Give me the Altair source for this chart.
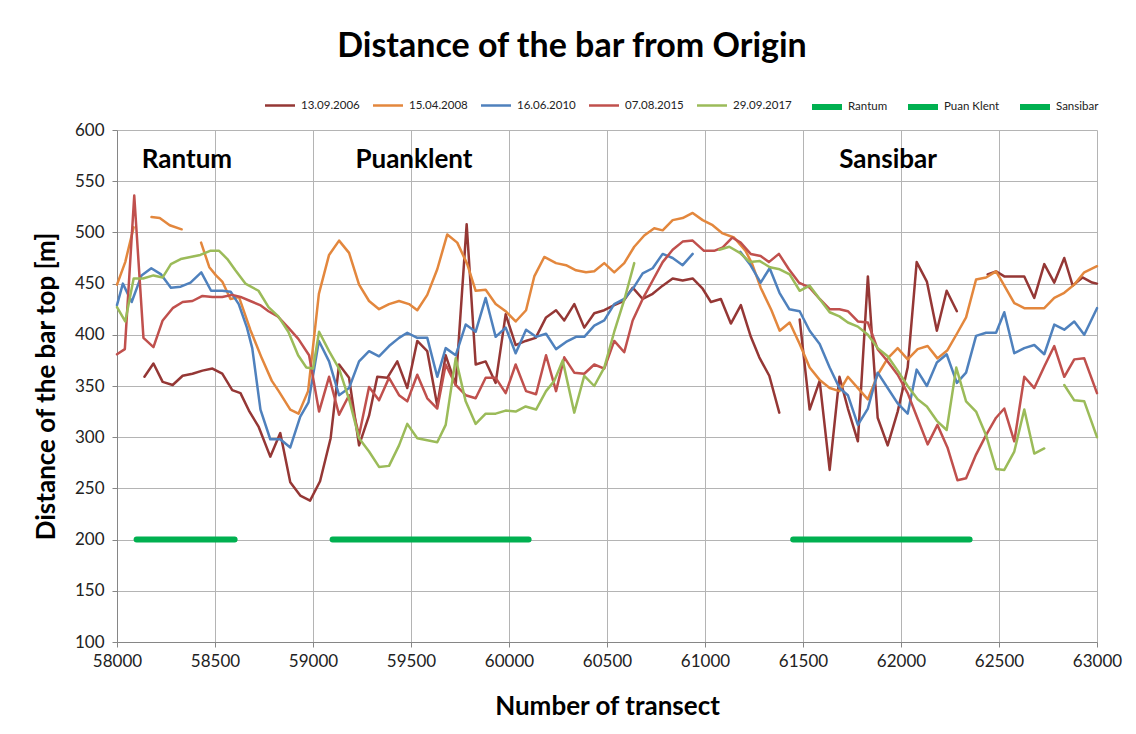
import altair as alt
import pandas as pd

# ---------------- data ----------------
series_names = ["13.09.2006", "15.04.2008", "16.06.2010", "07.08.2015", "29.09.2017",
                "Rantum", "Puan Klent", "Sansibar"]

# 13.09.2006 (three separate stretches)
x_2006_a = [58140, 58186, 58233, 58284, 58335, 58385, 58436, 58487, 58537, 58588,
            58630, 58673, 58723, 58782, 58833, 58884, 58935, 58985, 59036, 59090,
            59133, 59184, 59235, 59286, 59328, 59379, 59430, 59481, 59532, 59583,
            59634, 59677, 59728, 59784, 59830, 59881, 59932, 59983, 60034, 60085,
            60136, 60189, 60240, 60282, 60333, 60384, 60435, 60486, 60537, 60584,
            60631, 60682, 60733, 60784, 60835, 60886, 60937, 60988, 61030, 61081,
            61132, 61183, 61234, 61277, 61328, 61379]
y_2006_a = [359, 372, 354, 351, 360, 362, 365, 367, 362, 346,
            343, 326, 310, 281, 304, 256, 243, 238, 257, 299,
            371, 358, 292, 321, 359, 358, 374, 348, 394, 384,
            331, 380, 351, 508, 371, 374, 353, 420, 390, 394,
            397, 417, 424, 414, 430, 407, 421, 424, 429, 433,
            446, 435, 440, 448, 455, 453, 455, 445, 432, 435,
            411, 429, 398, 378, 360, 324]
x_2006_b = [61483, 61534, 61585, 61636, 61686, 61729, 61780, 61831, 61881, 61932,
            61983, 62034, 62080, 62132, 62183, 62233, 62285]
y_2006_b = [415, 327, 355, 268, 359, 328, 296, 457, 319, 292,
            325, 368, 471, 452, 404, 443, 423]
x_2006_c = [62442, 62485, 62527, 62578, 62629, 62680, 62731, 62782, 62833, 62876,
            62926, 62975, 63000]
y_2006_c = [459, 462, 457, 457, 457, 436, 469, 451, 475, 448,
            456, 451, 450]

# 15.04.2008
x_2008_a = [58000, 58042, 58085]
y_2008_a = [449, 471, 505]
x_2008_b = [58176, 58218, 58269, 58330]
y_2008_b = [515, 514, 507, 503]
x_2008_c = [58429, 58471, 58505, 58537, 58579, 58622, 58680, 58739, 58790, 58825,
            58884, 58926, 58975, 59030, 59082, 59133, 59184, 59235, 59286, 59337,
            59388, 59439, 59490, 59532, 59583, 59634, 59685, 59736, 59787, 59830,
            59881, 59932, 59983, 60034, 60087, 60129, 60180, 60240, 60291, 60342,
            60393, 60435, 60486, 60537, 60588, 60639, 60690, 60741, 60784, 60835,
            60886, 60937, 60988, 61039, 61090, 61148, 61207, 61241, 61284, 61339,
            61381, 61432, 61483, 61534, 61585, 61636, 61686, 61729, 61780, 61831,
            61881, 61932, 61983, 62034, 62085, 62136, 62186, 62237, 62288, 62332,
            62383, 62434, 62485, 62527, 62578, 62629, 62680, 62731, 62782, 62833,
            62884, 62935, 63000]
y_2008_c = [490, 466, 458, 452, 435, 437, 405, 377, 355, 345,
            327, 323, 345, 440, 478, 492, 480, 449, 433, 425,
            430, 433, 430, 424, 439, 464, 498, 490, 469, 443,
            444, 430, 423, 413, 424, 457, 476, 470, 468, 463,
            461, 462, 470, 461, 470, 486, 497, 504, 502, 512,
            514, 519, 512, 507, 499, 495, 482, 469, 446, 424,
            404, 412, 391, 368, 356, 348, 345, 359, 348, 337,
            361, 377, 387, 376, 386, 389, 377, 385, 402, 417,
            454, 456, 462, 448, 431, 426, 426, 426, 436, 441,
            449, 461, 467]

# 16.06.2010
x_2010_a = [58000, 58030, 58075, 58125, 58175, 58225, 58275, 58325, 58375, 58430,
            58480, 58537, 58580, 58621, 58663, 58690, 58732, 58782, 58833, 58884,
            58935, 58977, 59030, 59082, 59133, 59184, 59235, 59286, 59337, 59388,
            59439, 59481, 59532, 59583, 59634, 59677, 59728, 59779, 59830, 59881,
            59932, 59983, 60034, 60087, 60138, 60189, 60240, 60291, 60342, 60384,
            60435, 60486, 60537, 60588, 60639, 60682, 60733, 60784, 60835, 60886,
            60937]
y_2010_a = [429, 450, 432, 458, 465, 459, 446, 447, 451, 461,
            443, 443, 442, 430, 407, 387, 327, 298, 298, 290,
            320, 334, 394, 374, 341, 348, 374, 384, 379, 389,
            397, 402, 397, 397, 359, 387, 380, 410, 403, 436,
            398, 407, 382, 405, 398, 401, 386, 393, 398, 398,
            409, 414, 430, 435, 447, 460, 465, 479, 475, 468,
            479]
x_2010_b = [61180, 61229, 61284, 61330, 61380, 61430, 61483, 61534, 61585, 61636,
            61686, 61729, 61780, 61831, 61881, 61932, 61983, 62034, 62080, 62132,
            62183, 62233, 62285, 62332, 62383, 62434, 62485, 62527, 62578, 62629,
            62680, 62731, 62782, 62833, 62884, 62935, 63000]
y_2010_b = [481, 469, 451, 465, 441, 425, 423, 404, 391, 368,
            348, 341, 312, 328, 363, 348, 333, 323, 366, 350,
            373, 381, 353, 363, 399, 402, 402, 422, 382, 387,
            390, 381, 410, 405, 413, 400, 426]

# 07.08.2015
x_2015 = [58000, 58040, 58088, 58135, 58186, 58233, 58284, 58335, 58385, 58436,
          58487, 58537, 58588, 58630, 58680, 58730, 58773, 58820, 58874, 58925,
          58980, 59031, 59082, 59133, 59184, 59235, 59286, 59337, 59388, 59439,
          59481, 59532, 59583, 59634, 59677, 59728, 59779, 59830, 59881, 59932,
          59983, 60034, 60087, 60138, 60189, 60240, 60282, 60333, 60384, 60435,
          60486, 60537, 60588, 60631, 60682, 60733, 60784, 60835, 60886, 60937,
          60995, 61046, 61088, 61139, 61182, 61233, 61284, 61326, 61377, 61428,
          61479, 61534, 61585, 61636, 61686, 61729, 61780, 61831, 61881, 61932,
          61983, 62034, 62085, 62136, 62186, 62237, 62288, 62332, 62383, 62434,
          62485, 62527, 62578, 62629, 62680, 62731, 62782, 62833, 62884, 62935,
          63000]
y_2015 = [381, 386, 536, 397, 388, 414, 426, 432, 433, 438,
          437, 437, 439, 437, 433, 429, 423, 418, 407, 396,
          380, 325, 359, 322, 341, 302, 349, 336, 358, 341,
          335, 361, 338, 328, 371, 351, 341, 338, 358, 358,
          343, 371, 345, 342, 380, 345, 378, 363, 362, 371,
          367, 394, 383, 414, 435, 453, 471, 483, 491, 492,
          482, 482, 485, 495, 490, 479, 477, 471, 479, 464,
          451, 446, 435, 425, 425, 423, 413, 412, 386, 374,
          361, 343, 318, 293, 312, 290, 258, 260, 283, 302,
          319, 328, 296, 359, 348, 369, 389, 359, 376, 377,
          343]

# 29.09.2017
x_2017_a = [58000, 58042, 58085, 58133, 58186, 58233, 58275, 58325, 58375, 58425,
            58475, 58521, 58563, 58604, 58655, 58722, 58773, 58823, 58874, 58924,
            58966, 59000, 59031, 59082, 59133, 59184, 59235, 59286, 59337, 59388,
            59439, 59481, 59532, 59583, 59634, 59677, 59728, 59779, 59830, 59881,
            59932, 59983, 60034, 60085, 60138, 60189, 60231, 60274, 60333, 60384,
            60435, 60486, 60537, 60588, 60639]
y_2017_a = [427, 413, 455, 455, 458, 456, 469, 474, 476, 478,
            482, 482, 474, 463, 450, 443, 427, 418, 403, 380,
            368, 367, 403, 384, 367, 337, 299, 286, 271, 272,
            292, 313, 299, 297, 295, 312, 377, 335, 313, 323,
            323, 326, 325, 330, 327, 345, 355, 375, 324, 360,
            350, 368, 403, 434, 470]
x_2017_b = [61073, 61124, 61178, 61229, 61280, 61331, 61381, 61432, 61483, 61534,
            61585, 61636, 61686, 61729, 61780, 61831, 61881, 61932, 61983, 62034,
            62085, 62132, 62183, 62233, 62282, 62332, 62383, 62434, 62485, 62527,
            62578, 62629, 62680, 62731]
y_2017_b = [483, 486, 480, 471, 472, 466, 464, 459, 443, 448,
            435, 422, 418, 412, 408, 400, 387, 379, 365, 350,
            337, 330, 316, 307, 368, 335, 325, 302, 269, 268,
            286, 327, 284, 289]
x_2017_c = [62833, 62884, 62935, 63000]
y_2017_c = [351, 336, 335, 300]

# beach sections drawn as horizontal bars at 200 m
section_names = ["Rantum", "Puan Klent", "Sansibar"]
section_start = [58100, 59100, 61450]
section_end = [58600, 60100, 62350]
section_level = [200, 200, 200]

# labels written inside the plot
label_text = ["Rantum", "Puanklent", "Sansibar"]
label_x = [58357, 59515, 61934]
label_y = [563, 563, 563]

x_ticks = [58000, 58500, 59000, 59500, 60000, 60500, 61000, 61500, 62000, 62500, 63000]
y_ticks = [100, 150, 200, 250, 300, 350, 400, 450, 500, 550, 600]

# ---------------- styles ----------------
series_colors = ["#953735", "#E3873D", "#4F81BD", "#C0504D", "#9BBB59",
                 "#00B050", "#00B050", "#00B050"]
series_widths = [2.5, 2.5, 2.5, 2.5, 2.5, 6, 6, 6]
FONT = "Lato"

# ---------------- build the table ----------------
segments = {
    "13.09.2006": [(x_2006_a, y_2006_a), (x_2006_b, y_2006_b), (x_2006_c, y_2006_c)],
    "15.04.2008": [(x_2008_a, y_2008_a), (x_2008_b, y_2008_b), (x_2008_c, y_2008_c)],
    "16.06.2010": [(x_2010_a, y_2010_a), (x_2010_b, y_2010_b)],
    "07.08.2015": [(x_2015, y_2015)],
    "29.09.2017": [(x_2017_a, y_2017_a), (x_2017_b, y_2017_b), (x_2017_c, y_2017_c)],
}
for n, s, e, lv in zip(section_names, section_start, section_end, section_level):
    segments[n] = [([s, e], [lv, lv])]

rows = []
for name in series_names:
    for i, (xs, ys) in enumerate(segments[name]):
        for xv, yv in zip(xs, ys):
            rows.append({"series": name, "seg": f"{name}#{i}",
                         "transect": xv, "distance": yv})
df = pd.DataFrame(rows)

legend = alt.Legend(orient="none", legendX=145, legendY=-41, direction="horizontal",
                    columns=8, gridAlign="none", symbolType="stroke", symbolSize=900,
                    labelFont=FONT, labelFontSize=11.5, labelColor="#222222",
                    labelOffset=3, columnPadding=8)

x_enc = alt.X("transect:Q",
              scale=alt.Scale(domain=[58000, 63000], nice=False, zero=False),
              axis=alt.Axis(values=x_ticks, format="d", title="Number of transect",
                            titleX=490, titleY=64, titleBaseline="middle",
                            labelPadding=6, labelFlush=False))
y_enc = alt.Y("distance:Q",
              scale=alt.Scale(domain=[100, 600], nice=False, zero=False),
              axis=alt.Axis(values=y_ticks, format="d",
                            title="Distance of the bar top [m]",
                            titleX=-71, titleY=256, titleBaseline="middle",
                            labelPadding=8, labelFlush=False))

lines = alt.Chart(df).mark_line(strokeCap="round", strokeJoin="round").encode(
    x=x_enc,
    y=y_enc,
    color=alt.Color("series:N", sort=series_names, title=None,
                    scale=alt.Scale(domain=series_names, range=series_colors),
                    legend=legend),
    strokeWidth=alt.StrokeWidth("series:N", sort=series_names, title=None,
                                scale=alt.Scale(type="ordinal", domain=series_names,
                                                range=series_widths),
                                legend=legend),
    detail="seg:N",
)

labels_df = pd.DataFrame({"label": label_text, "transect": label_x, "distance": label_y})
labels = alt.Chart(labels_df).mark_text(font=FONT, fontSize=26, fontWeight="bold",
                                        color="black", baseline="alphabetic").encode(
    x="transect:Q", y="distance:Q", text="label:N")

chart = alt.layer(lines, labels).properties(
    width=980, height=512,
    title=alt.TitleParams("Distance of the bar from Origin", font=FONT, fontSize=34,
                          fontWeight="bold", color="black", anchor="middle",
                          frame="group", dx=-35, dy=4, offset=2, baseline="alphabetic"),
    autosize=alt.AutoSizeParams(type="none"),
    padding={"left": 109, "top": 122, "right": 31, "bottom": 84},
).configure_view(strokeWidth=0).configure_axis(
    gridColor="#B4B4B4", gridWidth=1, domainColor="#868686", tickColor="#868686",
    tickSize=5, labelFont=FONT, labelFontSize=17, labelColor="#222222",
    titleFont=FONT, titleFontSize=26, titleFontWeight="bold", titleColor="black",
)

chart.save("out.html", embed_options={"renderer": "svg", "actions": False})
